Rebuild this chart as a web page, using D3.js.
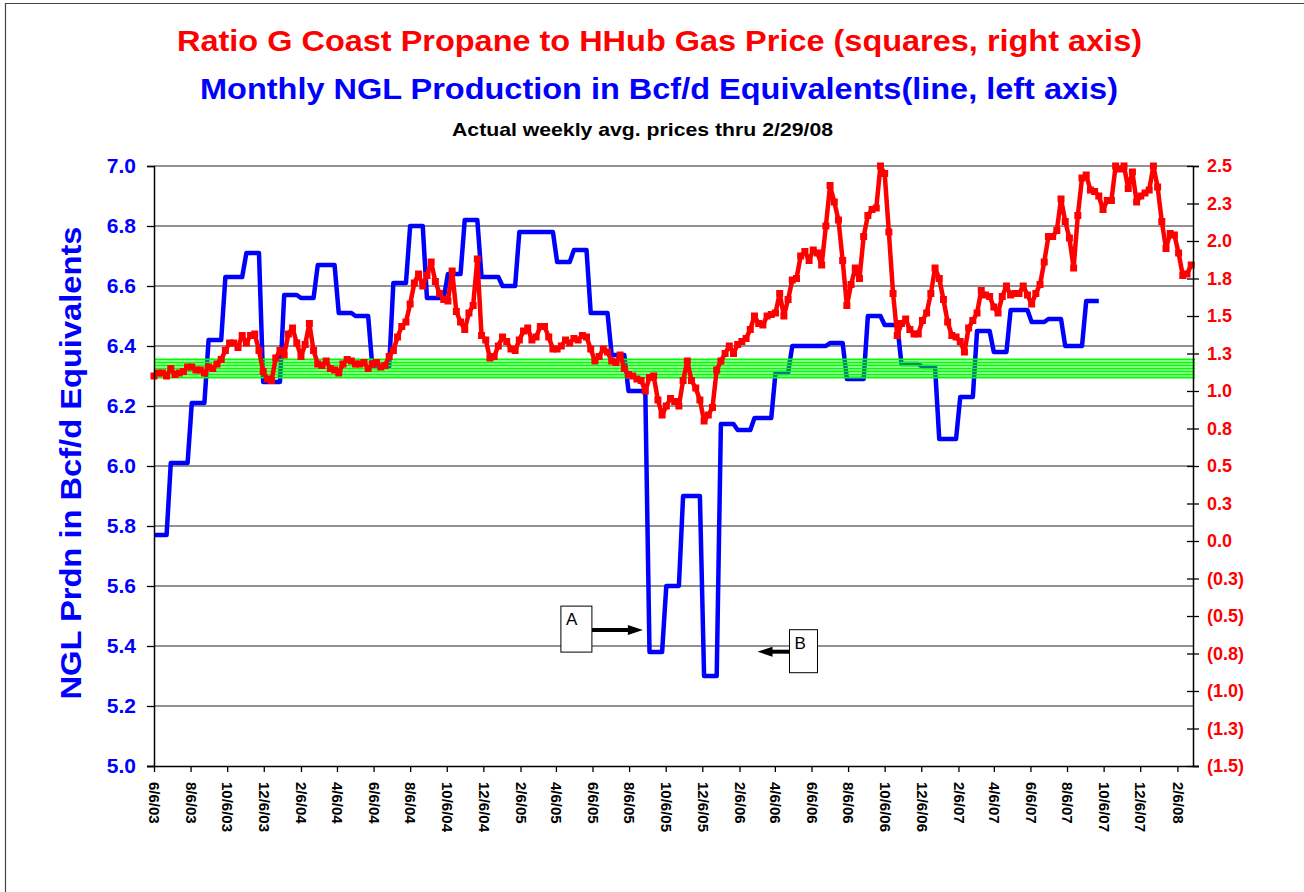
<!DOCTYPE html>
<html>
<head>
<meta charset="utf-8">
<script src="https://cdn.jsdelivr.net/npm/d3@7"></script>
<style>
  body { margin: 0; background: #fff; }
  svg text { font-family: "Liberation Sans", Arial, sans-serif; font-weight: bold; }
</style>
</head>
<body>
<div id="chart"></div>
<script>
// monthly NGL production, Bcf/d equivalents (left axis)
const nglMonths = ["6/03","7/03","8/03","9/03","10/03","11/03","12/03",
  "1/04","2/04","3/04","4/04","5/04","6/04","7/04","8/04","9/04","10/04","11/04","12/04",
  "1/05","2/05","3/05","4/05","5/05","6/05","7/05","8/05","9/05","10/05","11/05","12/05",
  "1/06","2/06","3/06","4/06","5/06","6/06","7/06","8/06","9/06","10/06","11/06","12/06",
  "1/07","2/07","3/07","4/07","5/07","6/07","7/07","8/07","9/07"];
const nglValues = [5.77, 6.01, 6.21, 6.42, 6.63, 6.71, 6.28,
  6.57, 6.56, 6.67, 6.51, 6.50, 6.33, 6.61, 6.80, 6.56, 6.64, 6.82, 6.63,
  6.60, 6.78, 6.78, 6.68, 6.72, 6.51, 6.37, 6.25, 5.38, 5.60, 5.90, 5.30,
  6.14, 6.12, 6.16, 6.31, 6.40, 6.40, 6.41, 6.29, 6.50, 6.47, 6.34, 6.33,
  6.09, 6.23, 6.45, 6.38, 6.52, 6.48, 6.49, 6.40, 6.55];

// weekly propane / HHub ratio (right axis), weeks from 6/6/03 to 2/29/08
const ratioStart = "6/6/03";
const ratioValues = [
  1.10, 1.12, 1.12, 1.10, 1.15, 1.11, 1.12, 1.13, 1.16, 1.16,
  1.14, 1.14, 1.12, 1.16, 1.15, 1.18, 1.21, 1.27, 1.32, 1.32,
  1.29, 1.37, 1.32, 1.37, 1.38, 1.27, 1.13, 1.08, 1.07, 1.22,
  1.27, 1.24, 1.38, 1.42, 1.32, 1.23, 1.31, 1.45, 1.27, 1.18,
  1.17, 1.20, 1.15, 1.14, 1.12, 1.18, 1.21, 1.20, 1.18, 1.18,
  1.19, 1.15, 1.18, 1.19, 1.16, 1.17, 1.23, 1.27, 1.36, 1.43,
  1.46, 1.58, 1.72, 1.78, 1.70, 1.77, 1.86, 1.73, 1.65, 1.61,
  1.60, 1.80, 1.53, 1.46, 1.41, 1.52, 1.57, 1.88, 1.37, 1.34,
  1.22, 1.23, 1.30, 1.36, 1.33, 1.28, 1.27, 1.34, 1.40, 1.42,
  1.34, 1.36, 1.43, 1.43, 1.36, 1.28, 1.28, 1.30, 1.34, 1.32,
  1.35, 1.34, 1.37, 1.36, 1.28, 1.20, 1.23, 1.28, 1.26, 1.20,
  1.19, 1.24, 1.15, 1.11, 1.10, 1.08, 1.07, 1.00, 1.09, 1.10,
  0.94, 0.84, 0.90, 0.95, 0.93, 0.90, 1.07, 1.20, 1.07, 1.02,
  0.94, 0.80, 0.84, 0.89, 1.14, 1.20, 1.25, 1.30, 1.25, 1.31,
  1.33, 1.35, 1.41, 1.50, 1.45, 1.44, 1.50, 1.51, 1.52, 1.65,
  1.50, 1.61, 1.74, 1.75, 1.90, 1.93, 1.87, 1.94, 1.92, 1.84,
  2.10, 2.37, 2.26, 2.14, 1.87, 1.57, 1.71, 1.82, 1.75, 2.03,
  2.17, 2.21, 2.22, 2.50, 2.45, 2.06, 1.65, 1.37, 1.45, 1.48,
  1.41, 1.38, 1.38, 1.47, 1.52, 1.65, 1.82, 1.75, 1.61, 1.46,
  1.37, 1.36, 1.33, 1.26, 1.42, 1.47, 1.52, 1.67, 1.64, 1.63,
  1.56, 1.52, 1.63, 1.70, 1.64, 1.65, 1.65, 1.70, 1.64, 1.58,
  1.65, 1.71, 1.86, 2.03, 2.03, 2.07, 2.28, 2.13, 2.02, 1.82,
  2.17, 2.42, 2.44, 2.34, 2.33, 2.30, 2.21, 2.27, 2.27, 2.50,
  2.48, 2.50, 2.35, 2.46, 2.26, 2.30, 2.32, 2.34, 2.50, 2.36,
  2.13, 1.95, 2.05, 2.04, 1.92, 1.77, 1.78, 1.84];

// green reference lines (right axis)
const greenLevels = [1.09, 1.11, 1.13, 1.15, 1.17, 1.19, 1.21];

const xTickLabels = ["6/6/03","8/6/03","10/6/03","12/6/03","2/6/04","4/6/04","6/6/04","8/6/04",
  "10/6/04","12/6/04","2/6/05","4/6/05","6/6/05","8/6/05","10/6/05","12/6/05","2/6/06","4/6/06",
  "6/6/06","8/6/06","10/6/06","12/6/06","2/6/07","4/6/07","6/6/07","8/6/07","10/6/07","12/6/07","2/6/08"];
const leftTicks = [5.0, 5.2, 5.4, 5.6, 5.8, 6.0, 6.2, 6.4, 6.6, 6.8, 7.0];
const rightTicks = [-1.5, -1.25, -1.0, -0.75, -0.5, -0.25, 0, 0.25, 0.5, 0.75, 1.0, 1.25, 1.5, 1.75, 2.0, 2.25, 2.5];

// annotation arrows: tip position in data terms
const notes = [
  { label: "A", date: "8/29/05", value: 5.453, side: "left" },
  { label: "B", date: "3/8/06", value: 5.381, side: "right" }
];

const W = 1304, H = 892;
const parse = d3.utcParse("%m/%d/%y");

const svg = d3.select("#chart").append("svg").attr("width", W).attr("height", H);

// chart area frame
svg.append("path").attr("d", "M5.5," + H + "V3.5H" + W)
  .attr("fill", "none").attr("stroke", "#444").attr("stroke-width", 1.2);

const x = d3.scaleUtc().domain([parse("6/6/03"), parse("3/3/08")]).range([154, 1193]);
const yL = d3.scaleLinear().domain([5, 7]).range([766, 166]);
const yR = d3.scaleLinear().domain([-1.5, 2.5]).range([766, 166]);

// gridlines
svg.append("g").selectAll("line").data(leftTicks.slice(1)).join("line")
  .attr("x1", 154).attr("x2", 1193)
  .attr("y1", d => yL(d)).attr("y2", d => yL(d))
  .attr("stroke", "#6e6e6e").attr("stroke-width", 1.3);

// series data
const t0 = parse(ratioStart);
const ratio = ratioValues.map((v, i) => ({ date: d3.utcDay.offset(t0, 7 * i), v }));

const monthKey = d => (d.getUTCMonth() + 1) + "/" + String(d.getUTCFullYear()).slice(2);
const ngl = [];
ratio.forEach(r => {
  const k = nglMonths.indexOf(monthKey(d3.utcDay.offset(r.date, -2)));
  if (k >= 0) ngl.push({ date: r.date, v: nglValues[k] });
});

// blue NGL line
svg.append("path").datum(ngl)
  .attr("d", d3.line().x(d => x(d.date)).y(d => yL(d.v)))
  .attr("fill", "none").attr("stroke", "#0000ff").attr("stroke-width", 4.5)
  .attr("stroke-linejoin", "round");

// green lines
svg.append("g").selectAll("line").data(greenLevels).join("line")
  .attr("x1", 154).attr("x2", 1195)
  .attr("y1", d => yR(d)).attr("y2", d => yR(d))
  .attr("stroke", "#00ff00").attr("stroke-width", 2.2);

// red ratio line + squares
svg.append("path").datum(ratio)
  .attr("d", d3.line().x(d => x(d.date)).y(d => yR(d.v)))
  .attr("fill", "none").attr("stroke", "#ff0000").attr("stroke-width", 4.5)
  .attr("stroke-linejoin", "round");
svg.append("g").selectAll("rect").data(ratio).join("rect")
  .attr("x", d => x(d.date) - 3.5).attr("y", d => yR(d.v) - 3.5)
  .attr("width", 7).attr("height", 7).attr("fill", "#ff0000");

// axes
const axL = svg.append("g").attr("transform", "translate(154,0)")
  .call(d3.axisLeft(yL).tickValues(leftTicks).tickFormat(d3.format(".1f")).tickSize(7).tickPadding(11));
axL.selectAll("text").attr("fill", "#0000ff").attr("font-size", 21);

const axR = svg.append("g").attr("transform", "translate(1193,0)")
  .call(d3.axisRight(yR).tickValues(rightTicks)
    .tickFormat(v => { const s = Math.abs(v).toFixed(1); return v < 0 ? "(" + s + ")" : s; })
    .tickSize(6).tickPadding(8));
axR.selectAll(".tick line").attr("x1", -6);
axR.selectAll("text").attr("fill", "#ff0000").attr("font-size", 18);

const axB = svg.append("g").attr("transform", "translate(0,766)")
  .call(d3.axisBottom(x).tickValues(xTickLabels.map(parse)).tickFormat((d, i) => xTickLabels[i]).tickSize(6));
axB.selectAll("text")
  .attr("transform", "rotate(90)").attr("x", 16).attr("y", 0).attr("dy", "0.35em")
  .style("text-anchor", "start").attr("fill", "#000").attr("font-size", 15);

[axL, axR, axB].forEach(a => {
  a.select(".domain").attr("stroke", "#000").attr("stroke-width", 1.5);
  a.selectAll(".tick line").attr("stroke", "#000").attr("stroke-width", 1.3);
});
axB.select(".domain").attr("d", "M147,0.5H1199");

// titles
svg.append("text").attr("x", 659.5).attr("y", 51).attr("text-anchor", "middle")
  .attr("fill", "#ff0000").attr("font-size", 30)
  .attr("textLength", 965).attr("lengthAdjust", "spacingAndGlyphs")
  .text("Ratio G Coast Propane to HHub Gas Price (squares, right axis)");
svg.append("text").attr("x", 659).attr("y", 99).attr("text-anchor", "middle")
  .attr("fill", "#0000ff").attr("font-size", 30)
  .attr("textLength", 918).attr("lengthAdjust", "spacingAndGlyphs")
  .text("Monthly NGL Production in Bcf/d Equivalents(line, left axis)");
svg.append("text").attr("x", 642.5).attr("y", 136).attr("text-anchor", "middle")
  .attr("fill", "#000").attr("font-size", 19)
  .attr("textLength", 381).attr("lengthAdjust", "spacingAndGlyphs")
  .text("Actual weekly avg. prices thru 2/29/08");

svg.append("text").attr("transform", "translate(81,463) rotate(-90)")
  .attr("text-anchor", "middle").attr("fill", "#0000ff").attr("font-size", 29)
  .attr("textLength", 473).attr("lengthAdjust", "spacingAndGlyphs")
  .text("NGL Prdn in Bcf/d Equivalents");

// annotation boxes with arrows
notes.forEach(n => {
  const tx = x(parse(n.date)), ty = yL(n.value);
  const g = svg.append("g");
  let bx, by, bw, bh, x0;
  if (n.side === "left") {
    bw = 31; bh = 46; bx = tx - 51 - bw; by = ty - 24; x0 = bx + bw;
    g.append("line").attr("x1", x0).attr("x2", tx - 13).attr("y1", ty).attr("y2", ty);
    g.append("path").attr("d", `M${tx},${ty}L${tx - 15},${ty - 5}L${tx - 15},${ty + 5}Z`);
  } else {
    bw = 28; bh = 43; bx = tx + 32; by = ty - 22; x0 = bx;
    g.append("line").attr("x1", x0).attr("x2", tx + 13).attr("y1", ty).attr("y2", ty);
    g.append("path").attr("d", `M${tx},${ty}L${tx + 15},${ty - 5}L${tx + 15},${ty + 5}Z`);
  }
  g.selectAll("line").attr("stroke", "#000").attr("stroke-width", 4);
  g.selectAll("path").attr("fill", "#000");
  g.append("rect").attr("x", bx).attr("y", by).attr("width", bw).attr("height", bh)
    .attr("fill", "#fff").attr("stroke", "#000").attr("stroke-width", 1);
  g.append("text").attr("x", bx + 5).attr("y", by + 19)
    .attr("font-size", 17).style("font-weight", "normal").text(n.label);
});
</script>
</body>
</html>
